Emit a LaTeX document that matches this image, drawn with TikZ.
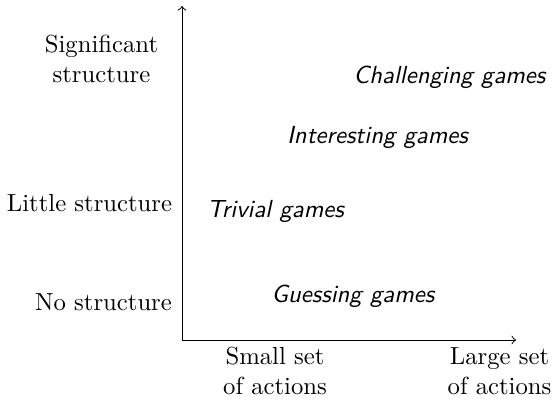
\documentclass[tikz,border=0pt]{standalone}
\begin{document}
\begin{tikzpicture}[x=0.405pt,y=-0.405pt,
  axislabel/.style={font=\rmfamily, align=center, inner sep=0pt},
  gamelabel/.style={font=\sffamily\itshape, inner sep=0pt},
  axis/.style={->, line width=0.4pt}]
  \useasboundingbox (0,0) rectangle (552,402);
  % axes
  \coordinate (O) at (182,340);
  \coordinate (ytop) at (182,6);
  \coordinate (xend) at (516,340);
  \draw[axis] (O) -- (ytop);
  \draw[axis] (O) -- (xend);
  % labels along the vertical axis
  \node[axislabel] (sig) at (101.5,59) {Significant\\structure};
  \node[axislabel] (little) at (89.5,203) {Little structure};
  \node[axislabel] (none) at (103.5,302) {No structure};
  % labels along the horizontal axis
  \node[axislabel] (small) at (275,371) {Small set\\of actions};
  \node[axislabel] (large) at (499.5,371) {Large set\\of actions};
  % kinds of games
  \node[gamelabel] (challenging) at (449.5,77) {Challenging games};
  \node[gamelabel] (interesting) at (377.5,137) {Interesting games};
  \node[gamelabel] (trivial) at (275.5,211) {Trivial games};
  \node[gamelabel] (guessing) at (353,296) {Guessing games};
\end{tikzpicture}
\end{document}
